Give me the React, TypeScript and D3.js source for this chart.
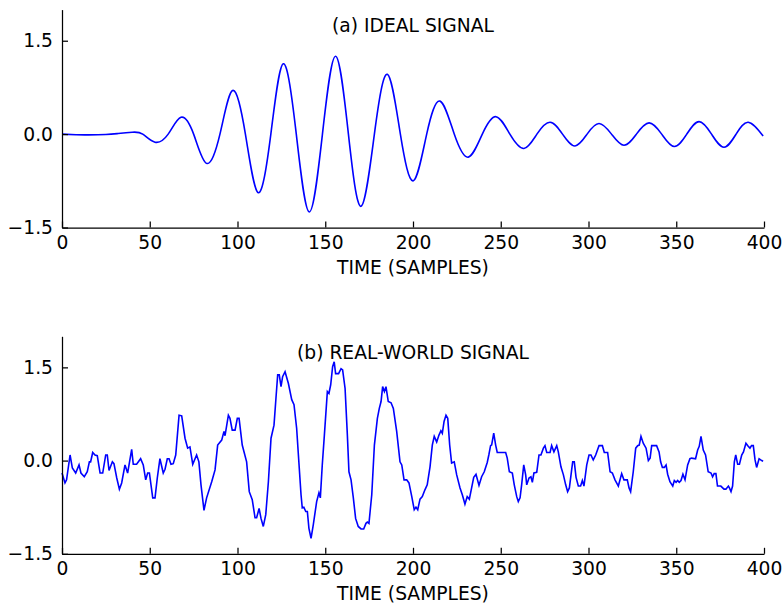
import React, { useEffect, useRef } from "react";
import * as d3 from "d3";

// time axis ticks and amplitude ticks
const xTicks = [0, 50, 100, 150, 200, 250, 300, 350, 400];
const yTicks = [-1.5, 0, 1.5];
const titles = ["(a) IDEAL SIGNAL", "(b) REAL-WORLD SIGNAL"];
const xLabel = "TIME (SAMPLES)";

// ideal signal: extrema and zero crossings [sample, amplitude]
const idealSignal: [number, number][] = [
  [0, 0], [8, -0.01], [15, -0.012], [25, -0.005], [32, 0.01], [40, 0.03], [46, 0.0],
  [53, -0.13], [60.5, 0], [67.8, 0.27], [75, 0], [82.4, -0.47], [90, 0], [97.2, 0.7],
  [104.5, 0], [111.8, -0.94], [119, 0], [126.1, 1.13], [133.5, 0], [140.9, -1.25],
  [148.4, 0], [155.9, 1.25], [163.2, 0], [170.4, -1.16], [178, 0], [185.4, 0.96],
  [192.8, 0], [200.2, -0.75], [207.8, 0], [215.4, 0.53], [223.5, 0], [231.5, -0.37],
  [239.5, 0], [247.3, 0.28], [255.2, 0], [263.2, -0.23], [270.6, 0], [278.1, 0.19],
  [285.2, 0], [292.3, -0.19], [299.2, 0], [306, 0.17], [313.1, 0], [320.2, -0.18],
  [327.3, 0], [334.5, 0.18], [341.7, 0], [348.9, -0.2], [356, 0], [363, 0.2],
  [370.1, 0], [377.2, -0.21], [384.1, 0], [391, 0.19], [399.5, -0.03],
];

// noisy recording [sample, amplitude]
const realSignal: [number, number][] = [
  [0, -0.2], [1.7, -0.36], [2.6, -0.31], [4.6, 0.09], [5.9, -0.12], [7.8, -0.2], [9.7, -0.07],
  [10.8, -0.2], [12.7, -0.26], [14.4, -0.18], [15.6, -0.02], [16.3, -0.02], [17.5, 0.13],
  [18.8, 0.09], [20.1, 0.08], [21.7, -0.2], [23.2, -0.2], [24.9, 0.09], [25.8, 0.09],
  [26.8, -0.16], [28.7, -0.02], [29.6, -0.05], [31.2, -0.28], [32.7, -0.46], [34, -0.36],
  [35.9, -0.07], [37.4, -0.2], [39.7, 0.18], [40.6, -0.06], [42.5, -0.06], [44.8, 0.03],
  [46.3, -0.07], [47.7, -0.31], [48.8, -0.2], [49.8, -0.2], [51.7, -0.6], [53, -0.6],
  [54.3, -0.28], [55.8, 0.03], [57.7, -0.2], [58.7, -0.14], [60, 0.03], [61, 0.03],
  [62.1, -0.06], [63.4, -0.05], [64.8, 0.09], [66.7, 0.73], [68.2, 0.72], [70.1, 0.36],
  [71.6, 0.2], [72.9, 0.22], [74.5, -0.06], [76.7, 0.09], [78, -0.02], [79.2, -0.39],
  [80.9, -0.8], [82.4, -0.6], [85.3, -0.34], [87.2, -0.15], [88.7, 0.25], [91, 0.33],
  [92.3, 0.47], [92.9, 0.4], [94.8, 0.73], [95.7, 0.68], [97, 0.49], [98.6, 0.49],
  [99.9, 0.68], [100.9, 0.68], [102.7, 0.25], [105.2, -0.02], [106.7, -0.5], [108.4, -0.63],
  [110, -0.92], [110.9, -0.92], [112.3, -0.77], [113.4, -0.93], [114.7, -1.06], [116.1, -0.87],
  [117.6, -0.34], [119.1, 0.36], [120.8, 0.57], [121.9, 1.0], [122.9, 1.38], [123.8, 1.38],
  [124.8, 1.19], [125.7, 1.35], [127.1, 1.43], [129, 1.24], [130.9, 0.98], [132.2, 0.9],
  [133.7, 0.52], [134.7, 0.09], [136.2, -0.55], [136.9, -0.76], [137.8, -0.75], [138.9, -0.82],
  [139.8, -0.82], [140.7, -1.09], [141.9, -1.25], [143.2, -1.03], [145.1, -0.66], [146.4, -0.52],
  [147.2, -0.6], [148.3, -0.07], [149.5, 0.41], [151.2, 1.11], [152.1, 1.08], [153.1, 1.22],
  [154.2, 1.51], [155.1, 1.59], [155.9, 1.4], [157.6, 1.4], [159, 1.48], [159.9, 1.46],
  [161.3, 1.16], [162.6, 0.41], [163.5, -0.18], [164.7, -0.31], [166, -0.6], [167.3, -0.93],
  [168.8, -1.06], [170.4, -1.1], [171.9, -1.1], [173.2, -1.01], [174, -0.99], [174.9, -1.01],
  [176.5, -0.55], [178, 0.25], [179.7, 0.68], [180.8, 0.84], [181.8, 0.95], [182.7, 1.19],
  [183.7, 1.11], [184.6, 1.19], [185.9, 0.95], [187.5, 0.93], [188.8, 0.84], [190.7, 0.47],
  [192.6, -0.02], [193.6, -0.07], [194.9, -0.31], [196.4, -0.31], [197.7, -0.36], [199.3, -0.58],
  [200.7, -0.79], [201.7, -0.75], [202.7, -0.79], [204, -0.62], [205.3, -0.58], [206.8, -0.47],
  [208.1, -0.39], [209.7, -0.1], [211, 0.25], [212.1, 0.39], [213.5, 0.3], [214.8, 0.41],
  [215.9, 0.48], [216.7, 0.44], [217.7, 0.63], [218.8, 0.73], [219.8, 0.68], [220.9, 0.25],
  [222, -0.04], [223.5, -0.02], [224.9, -0.23], [226.8, -0.44], [228.1, -0.55], [229.6, -0.7],
  [230.9, -0.58], [232.1, -0.62], [233.4, -0.44], [234.6, -0.27], [235.9, -0.22], [237.6, -0.4],
  [239.1, -0.26], [240.6, -0.18], [242.3, -0.03], [243.2, 0.09], [244.2, 0.24], [244.8, 0.25],
  [246, 0.44], [247.1, 0.25], [248, 0.13], [252.8, 0.13], [253.7, 0.04], [254.9, -0.18],
  [256.6, -0.2], [257.7, -0.39], [259.1, -0.58], [260, -0.66], [261, -0.6], [261.9, -0.39],
  [263.1, -0.07], [264.2, -0.23], [264.8, -0.39], [266.1, -0.28], [267.2, -0.26], [268, -0.35],
  [268.9, -0.2], [270.5, -0.19], [271.8, 0.09], [272.9, 0.09], [274.3, 0.2], [275.2, 0.24],
  [276.2, 0.13], [278.1, 0.13], [279, 0.24], [280.3, 0.14], [281.9, 0.24], [282.8, 0.14],
  [284.3, -0.1], [285.7, -0.23], [287, -0.39], [288.1, -0.5], [289.1, -0.44], [290.4, -0.15],
  [291, -0.02], [291.9, -0.02], [292.9, -0.27], [294.2, -0.41], [295.5, -0.41], [296.5, -0.32],
  [297.4, -0.41], [299, -0.07], [300.3, 0.09], [301.4, 0.09], [302.7, 0.01], [304.1, 0.09],
  [306, 0.24], [307.9, 0.24], [309, 0.13], [310.9, 0.13], [312.3, -0.18], [313.6, -0.2],
  [315.1, -0.31], [317, -0.41], [318.9, -0.21], [320.2, -0.31], [322.1, -0.31], [323.1, -0.44],
  [324, -0.5], [325.5, -0.18], [326.9, 0.2], [328, 0.24], [328.9, 0.25], [329.9, 0.39],
  [331.2, 0.28], [332.8, 0.2], [334.1, 0.0], [335.1, 0.04], [336, 0.24], [338.8, 0.24],
  [340.2, 0.14], [341.1, -0.02], [342.1, -0.11], [343.2, -0.11], [344.2, -0.07], [345.1, -0.22],
  [346.4, -0.34], [348, -0.41], [348.9, -0.32], [349.9, -0.35], [350.8, -0.32], [351.7, -0.35],
  [352.7, -0.32], [353.8, -0.22], [355, -0.31], [356.5, -0.07], [357.8, 0.03], [358.8, 0.04],
  [361, 0.03], [362.2, 0.17], [363.1, 0.23], [364.1, 0.39], [365.4, 0.17], [366.7, 0.09],
  [368.2, -0.18], [369.8, -0.2], [370.7, -0.26], [371.6, -0.21], [372.6, -0.21], [373.5, -0.41],
  [375.4, -0.41], [377.2, -0.46], [378.3, -0.46], [379.7, -0.41], [380.3, -0.44], [381.2, -0.5],
  [382.1, -0.41], [383.1, -0.02], [383.9, 0.09], [385, -0.06], [386, -0.06], [387.3, 0.09],
  [388.3, 0.14], [389.7, 0.28], [391, 0.23], [392, 0.2], [392.9, 0.24], [393.9, 0.24],
  [394.9, 0.01], [395.8, -0.11], [397.2, 0.03], [398.7, 0.0], [399.5, -0.01],
];

const FONT = "DejaVu Sans, sans-serif";
const FONT_SIZE = 18.7;

type PanelProps = {
  data: [number, number][];
  title: string;
  top: number;
  bottom: number;
  curve: d3.CurveFactory;
};

const Panel = ({ data, title, top, bottom, curve }: PanelProps) => {
  const xRef = useRef<SVGGElement>(null);
  const yRef = useRef<SVGGElement>(null);

  const x = d3.scaleLinear().domain([0, 400]).range([62, 764]);
  const y = d3.scaleLinear().domain([-1.5, 2]).range([bottom, top]);

  useEffect(() => {
    const fmt = (d: d3.NumberValue) => d3.format(".1f")(+d).replace("-", "\u2212");

    const gx = d3.select(xRef.current!);
    gx.selectAll("*").remove();
    gx.call(
      d3.axisBottom(x).tickValues(xTicks).tickSizeInner(-6).tickSizeOuter(0).tickPadding(8)
    );

    const gy = d3.select(yRef.current!);
    gy.selectAll("*").remove();
    gy.call(
      d3.axisLeft(y).tickValues(yTicks).tickFormat(fmt).tickSizeInner(-6).tickSizeOuter(0).tickPadding(9)
    );

    [gx, gy].forEach((g) => {
      g.attr("font-family", FONT).attr("font-size", FONT_SIZE);
      g.selectAll("text").attr("fill", "#000");
      g.selectAll("line, path").attr("stroke", "#000").attr("stroke-width", 1.25);
    });
  }, [top, bottom]);

  const line = d3
    .line<[number, number]>()
    .x((d) => x(d[0]))
    .y((d) => y(d[1]))
    .curve(curve);

  return (
    <g>
      <path d={line(data) ?? ""} fill="none" stroke="#0000ff" strokeWidth={1.6} />
      <g ref={xRef} transform={`translate(0,${bottom})`} />
      <g ref={yRef} transform="translate(62,0)" />
      <text x={413} y={top + 22.5} textAnchor="middle" fontFamily={FONT} fontSize={FONT_SIZE}>
        {title}
      </text>
      <text x={413} y={bottom + 46.5} textAnchor="middle" fontFamily={FONT} fontSize={FONT_SIZE}>
        {xLabel}
      </text>
    </g>
  );
};

export default function App() {
  return (
    <svg
      width={784}
      height={608}
      style={{ position: "absolute", left: 0, top: 0, background: "#fff" }}
    >
      <Panel data={idealSignal} title={titles[0]} top={9.6} bottom={227.5} curve={d3.curveNatural} />
      <Panel data={realSignal} title={titles[1]} top={336.3} bottom={553.8} curve={d3.curveLinear} />
    </svg>
  );
}
